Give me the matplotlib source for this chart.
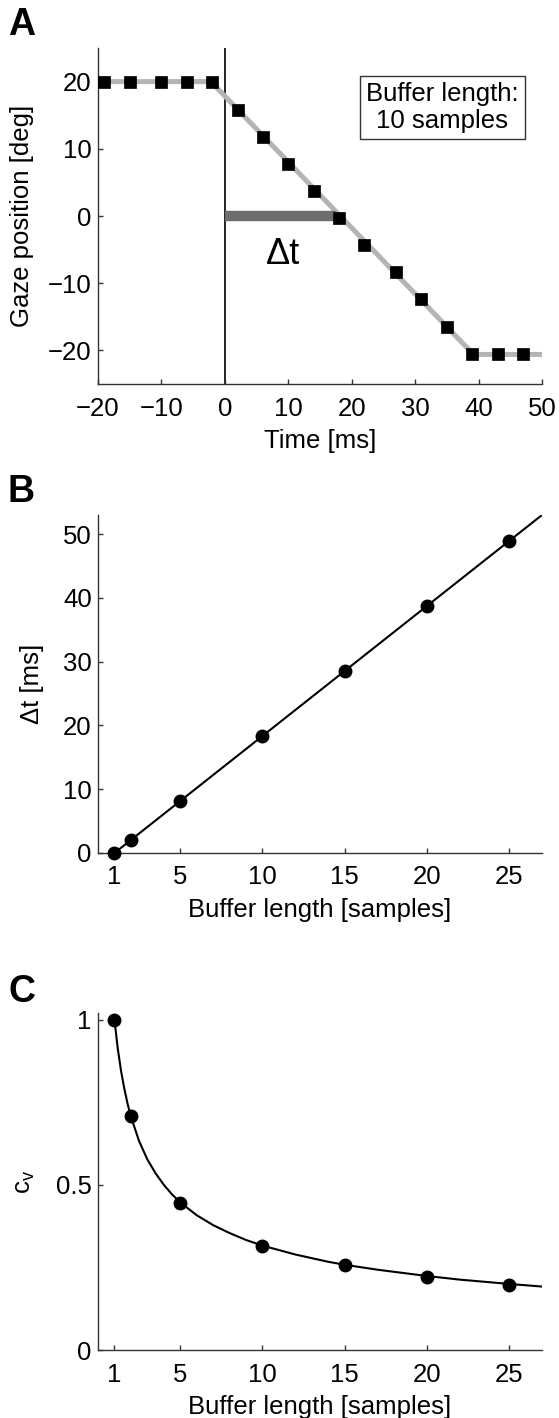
import numpy as np
import matplotlib
matplotlib.use('Agg')
import matplotlib.pyplot as plt

plt.rcParams['font.family'] = ['Liberation Sans', 'DejaVu Sans']
plt.rcParams['mathtext.default'] = 'regular'
plt.rcParams['font.size'] = 18.5

# panel A: gaze samples and underlying trace
sample_t = [-19, -15, -10, -6, -2, 2, 6, 10, 14, 18, 22, 27, 31, 35, 39, 43, 47]
sample_pos = [20, 20, 20, 20, 20, 15.8, 11.7, 7.8, 3.7, -0.35, -4.3, -8.4,
              -12.4, -16.5, -20.6, -20.6, -20.6]
trace_t = [-20, -2.2, 39.2, 50]
trace_pos = [20, 20, -20.6, -20.6]
delay_t = [0, 17.6]
delay_pos = [0, 0]

# panel B: delay vs buffer length
buf_len = [1, 2, 5, 10, 15, 20, 25]
delta_t = [0, 2.0, 8.2, 18.4, 28.6, 38.8, 49.0]
fit_len = [1, 27]
fit_dt = [0, 53.0]

# panel C: coefficient of variation vs buffer length
cv = [1.0, 0.707, 0.446, 0.315, 0.257, 0.222, 0.197]
curve_len = [1, 1.2, 1.4, 1.6, 1.8, 2, 2.5, 3, 3.5, 4, 4.5, 5, 6, 7, 8, 9, 10,
             12, 14, 15, 17, 20, 22, 25, 27]
curve_cv = [1.0, 0.913, 0.845, 0.791, 0.745, 0.707, 0.632, 0.577, 0.535, 0.5,
            0.471, 0.447, 0.408, 0.378, 0.354, 0.333, 0.316, 0.289, 0.267,
            0.258, 0.243, 0.224, 0.213, 0.2, 0.192]

W, H = 559, 1418
spine_col = '#333333'


def style(ax):
    for s in ['top', 'right']:
        ax.spines[s].set_visible(False)
    for s in ['left', 'bottom']:
        ax.spines[s].set_color(spine_col)
        ax.spines[s].set_linewidth(1.0)
    ax.tick_params(direction='in', length=3.5, width=1, color=spine_col)
    ax.tick_params(axis='x', pad=9)
    ax.tick_params(axis='y', pad=4.5)


def rect(top, bottom, left=98, right=542):
    return [left / W, 1 - bottom / H, (right - left) / W, (bottom - top) / H]


fig = plt.figure(figsize=(W / 100, H / 100), dpi=100)

# ---- A
ax = fig.add_axes(rect(48, 384))
style(ax)
ax.plot(trace_t, trace_pos, color='#b4b4b4', lw=3.6, solid_capstyle='butt', zorder=2)
ax.plot(delay_t, delay_pos, color='#6e6e6e', lw=7.5, solid_capstyle='butt', zorder=2)
ax.axvline(0, color='k', lw=1.2, zorder=1)
ax.plot(sample_t, sample_pos, 's', color='k', ms=9, mew=0.5, zorder=3)
ax.text(9.1, -7.2, 'Δt', fontsize=26, ha='center', va='baseline')
ax.text(34.3, 16.15, 'Buffer length:\n10 samples', ha='center', va='center',
        multialignment='center', linespacing=1.15,
        bbox=dict(boxstyle='square,pad=0.25', fc='white', ec=spine_col, lw=1))
ax.set_xlim(-20, 50)
ax.set_ylim(-25, 25)
ax.set_xticks(range(-20, 51, 10))
ax.set_yticks(range(-20, 21, 10))
ax.set_xlabel('Time [ms]', labelpad=6)
ax.set_ylabel('Gaze position [deg]')
ax.yaxis.set_label_coords(-0.144, 0.5)

# ---- B
ax = fig.add_axes(rect(515, 853))
style(ax)
ax.plot(fit_len, fit_dt, color='k', lw=1.5, zorder=2)
ax.plot(buf_len, delta_t, 'o', color='k', ms=9, zorder=3, clip_on=False)
ax.set_xlim(0, 27)
ax.set_ylim(0, 53)
ax.set_xticks([1, 5, 10, 15, 20, 25])
ax.set_yticks(range(0, 51, 10))
ax.set_xlabel('Buffer length [samples]', labelpad=6)
ax.set_ylabel('Δt [ms]')
ax.yaxis.set_label_coords(-0.1205, 0.5)

# ---- C
ax = fig.add_axes(rect(1013, 1350))
style(ax)
ax.plot(curve_len, curve_cv, color='k', lw=1.5, zorder=2)
ax.plot(buf_len, cv, 'o', color='k', ms=9, zorder=3, clip_on=False)
ax.set_xlim(0, 27)
ax.set_ylim(0, 1.02)
ax.set_xticks([1, 5, 10, 15, 20, 25])
ax.set_yticks([0, 0.5, 1])
ax.set_yticklabels(['0', '0.5', '1'])
ax.set_xlabel('Buffer length [samples]', labelpad=6)
ax.set_ylabel('c$_v$')
ax.yaxis.set_label_coords(-0.137, 0.5)

for letter, base in [('A', 35), ('B', 502), ('C', 1002)]:
    fig.text(8 / W, 1 - base / H, letter, fontsize=27, fontweight='bold',
             va='baseline', ha='left')

fig.savefig('out.png', dpi=100)
